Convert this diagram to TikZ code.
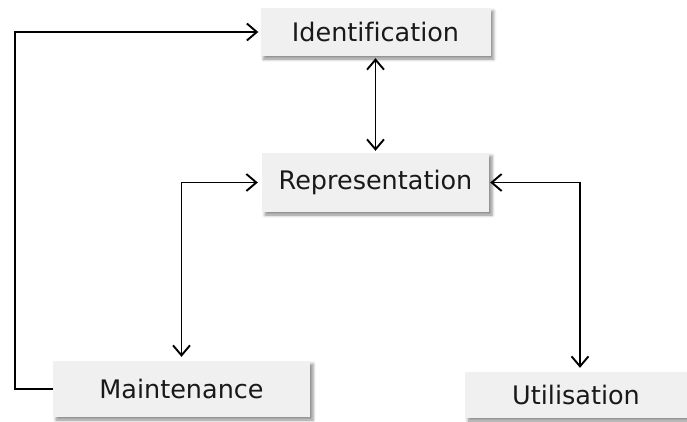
\documentclass[tikz,border=0pt]{standalone}
\usepackage{fontspec}
\setmainfont[Ligatures=NoCommon]{DejaVu Sans}
\usetikzlibrary{arrows.meta,shadows.blur}
\begin{document}
\begin{tikzpicture}[x=1pt,y=-1pt,
  stage/.style={draw=none, fill=black!6, text=black!90, inner sep=0pt,
    font=\fontsize{25.5}{30}\selectfont,
    blur shadow={shadow xshift=3pt, shadow yshift=-3pt,
      shadow blur radius=3pt, shadow opacity=45}},
  link/.style={line width=1.9pt, black,
    arrows={Straight Barb[length=10pt,width=17pt,line width=1.9pt]-Straight Barb[length=10pt,width=17pt,line width=1.9pt]}},
  oneway/.style={line width=1.9pt, black,
    -{Straight Barb[length=10pt,width=17pt,line width=1.9pt]}}]
  \useasboundingbox (0,0) rectangle (687,421);

  % stages of the cycle
  \node[stage, minimum width=230pt, minimum height=48pt] (ident) at (375.5,32) {Identification};
  \node[stage, minimum width=227pt, minimum height=59pt] (rep) at (375.5,182.5) {Representation};
  \node[stage, minimum width=257pt, minimum height=56pt] (maint) at (181.5,389) {Maintenance};
  \node[stage, minimum width=222pt, minimum height=46pt] (util) at (576,395) {Utilisation};

  % two-way links
  \draw[link, shorten <=2pt, shorten >=2pt] (ident.south) -- (rep.north);
  \draw[link, shorten <=4pt, shorten >=4pt] (rep.west) -| (maint.north);
  \draw[link, shorten <=1pt, shorten >=4pt] (rep.east) -| ([xshift=4pt]util.north);

  % feedback from maintenance back to identification
  \coordinate (loop) at (15,0);
  \draw[oneway, shorten >=2pt] (maint.west) -- (maint.west -| loop) |- (ident.west);
\end{tikzpicture}
\end{document}
